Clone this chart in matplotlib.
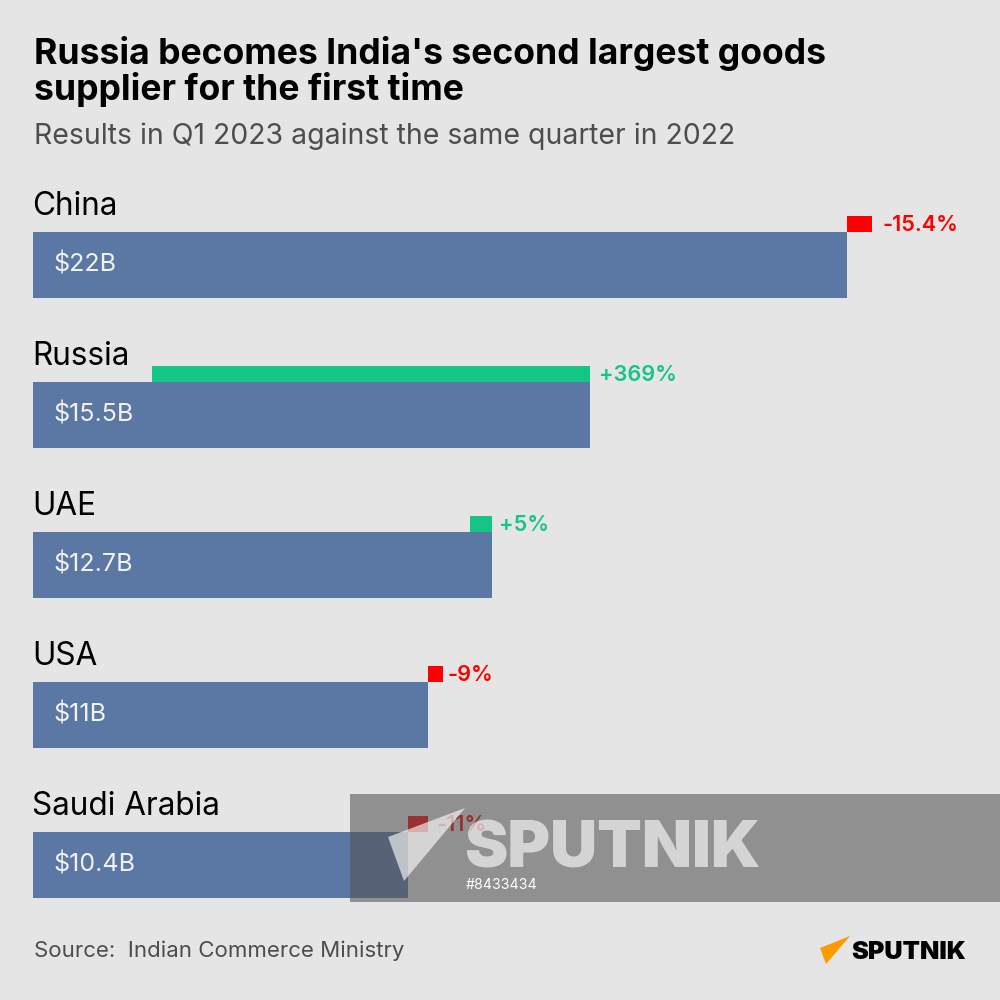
import matplotlib
matplotlib.use('Agg')
import matplotlib.pyplot as plt
from matplotlib.patches import Polygon, Rectangle

countries = ['China', 'Russia', 'UAE', 'USA', 'Saudi Arabia']
# bar lengths in $B as drawn (China's bar is drawn a bit longer than its label says)
values = [22.6, 15.47, 12.75, 10.97, 10.42]
value_labels = ['$22B', '$15.5B', '$12.7B', '$11B', '$10.4B']
# the small change bar on top, in the same units
change_left = [22.6, 3.3, 12.15, 10.97, 10.42]
change_len = [0.7, 12.17, 0.6, 0.42, 0.55]
change_labels = ['-15.4%', '+369%', '+5%', '-9%', '-11%']

BG = '#e5e5e5'
BLUE = '#5b78a4'
RED = '#ff0000'
GREEN = '#14c586'
FONT = 'Inter'

plt.rcParams['font.family'] = FONT

fig = plt.figure(figsize=(10, 10), dpi=100, facecolor=BG)
ax = fig.add_axes([0, 0, 1, 1])
ax.set_facecolor(BG)
# 36 px per $B starting at x=33, 150 px per row with first row centred at y=265
ax.set_xlim(-33 / 36, 967 / 36)
ax.set_ylim(735 / 150, -265 / 150)
ax.axis('off')

# overlay axes in pixel coords for the furniture
px = fig.add_axes([0, 0, 1, 1], facecolor='none')
px.set_xlim(0, 1000)
px.set_ylim(1000, 0)
px.axis('off')
px.set_zorder(2)

bar_h = 66 / 150
change_h = 16 / 150
label_gap = [0.3, 0.24, 0.2, 0.12, 0.25]

ax.barh(range(5), values, height=bar_h, color=BLUE)
for i in range(5):
    col = GREEN if change_labels[i].startswith('+') else RED
    ax.barh(i - bar_h / 2 - change_h / 2, change_len[i], left=change_left[i],
            height=change_h, color=col)
    ax.text(0.58, i, value_labels[i], color='#f2f2f2', fontsize=18, va='center', ha='left')
    ax.text(-0.02, i - 0.333, countries[i], color='#000000', fontsize=22.7, va='baseline', ha='left')
    ax.text(change_left[i] + change_len[i] + label_gap[i], i - bar_h / 2 - change_h / 2 + 0.008,
            change_labels[i], color=col, fontsize=15.6, fontweight='semibold',
            va='center', ha='left')

# title block
px.text(34, 64, "Russia becomes India's second largest goods", fontsize=25.6,
        fontweight='bold', color='#000000')
px.text(34, 100, 'supplier for the first time', fontsize=25.6, fontweight='bold', color='#000000')
px.text(34, 144, 'Results in Q1 2023 against the same quarter in 2022', fontsize=20.45,
        color='#4d4d4d')
px.text(34, 957, 'Source:  Indian Commerce Ministry', fontsize=16, color='#4d4d4d')

# logo bottom right
px.add_patch(Polygon([(850, 936), (820, 948), (826, 964)], color='#ff9900', lw=0))
px.text(851, 959, 'SPUTNIK', fontsize=18.2, fontweight='black', color='#000000')

# watermark band
px.add_patch(Rectangle((350, 794), 650, 108, facecolor='#535353', alpha=0.58, lw=0))
px.add_patch(Polygon([(465, 808), (388, 837), (404, 881)], facecolor='white', alpha=0.62, lw=0))
px.text(464, 868, 'SPUTNIK', fontsize=47, fontweight='black', color='white', alpha=0.62)
px.text(466, 889, '#8433434', fontsize=10.2, color='white')

fig.savefig('out.png', dpi=100, facecolor=BG)
